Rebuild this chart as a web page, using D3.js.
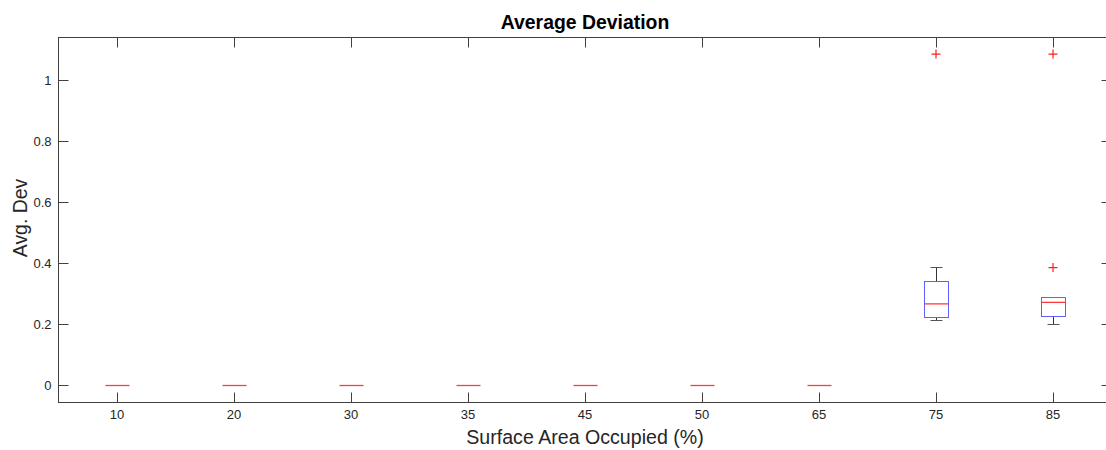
<!DOCTYPE html>
<html>
<head>
<meta charset="utf-8">
<script src="https://cdn.jsdelivr.net/npm/d3@7"></script>
<style>
  body { margin: 0; background: #fff; }
  text { font-family: "Liberation Sans", Arial, Helvetica, sans-serif; fill: #262626; }
</style>
</head>
<body>
<svg id="chart" width="1106" height="450"></svg>
<script>
// box plot summary per category
var categories = ['10', '20', '30', '35', '45', '50', '65', '75', '85'];
var lowerWhisker = [0, 0, 0, 0, 0, 0, 0, 0.213, 0.201];
var q1Values     = [0, 0, 0, 0, 0, 0, 0, 0.223, 0.228];
var medians      = [0, 0, 0, 0, 0, 0, 0, 0.268, 0.273];
var q3Values     = [0, 0, 0, 0, 0, 0, 0, 0.342, 0.288];
var upperWhisker = [0, 0, 0, 0, 0, 0, 0, 0.387, 0.288];
var outliers     = [[], [], [], [], [], [], [], [1.088], [0.387, 1.088]];
var yTicks = [0, 0.2, 0.4, 0.6, 0.8, 1];

var svg = d3.select('#chart');
var axLeft = 58.5, axRight = 1111.5, axTop = 37.5, axBottom = 402.5;
var axisColour = '#404040';

var x = d3.scalePoint()
    .domain(categories)
    .range([axLeft, axRight])
    .padding(0.5);

var y = d3.scaleLinear()
    .domain([-0.0558, 1.1425])
    .range([axBottom, axTop]);

// snap to pixel centres so 1px lines stay sharp
function px(v) { return Math.floor(v) + 0.5; }
function sx(c) { return px(x(c)); }
function sy(v) { return px(y(v)); }

var data = categories.map(function(c, i) {
    return {cat: c, lo: lowerWhisker[i], q1: q1Values[i], med: medians[i],
            q3: q3Values[i], hi: upperWhisker[i], out: outliers[i]};
});

var boxW = 24, capW = 12;
var g = svg.append('g');

// whiskers
g.selectAll('.whisk').data(data.filter(function(d) { return d.hi > d.lo; })).enter().append('path')
    .attr('d', function(d) {
        return 'M' + sx(d.cat) + ',' + sy(d.q3) + 'V' + sy(d.hi) +
               'M' + sx(d.cat) + ',' + sy(d.q1) + 'V' + sy(d.lo);
    })
    .style('stroke', '#333').style('stroke-width', 1).style('fill', 'none');

// caps
['hi', 'lo'].forEach(function(k) {
    g.selectAll('.cap' + k).data(data.filter(function(d) { return d.hi > d.lo; })).enter().append('line')
        .attr('x1', function(d) { return sx(d.cat) - capW / 2; })
        .attr('x2', function(d) { return sx(d.cat) + capW / 2; })
        .attr('y1', function(d) { return sy(d[k]); })
        .attr('y2', function(d) { return sy(d[k]); })
        .style('stroke', '#555').style('stroke-width', 1);
});

// boxes
g.selectAll('.box').data(data.filter(function(d) { return d.q3 > d.q1; })).enter().append('rect')
    .attr('x', function(d) { return sx(d.cat) - boxW / 2; })
    .attr('y', function(d) { return sy(d.q3); })
    .attr('width', boxW)
    .attr('height', function(d) { return sy(d.q1) - sy(d.q3); })
    .style('fill', 'none')
    .style('stroke', '#6060ff')
    .style('stroke-width', 1);

// medians
g.selectAll('.median').data(data).enter().append('line')
    .attr('x1', function(d) { return sx(d.cat) - boxW / 2; })
    .attr('x2', function(d) { return sx(d.cat) + boxW / 2; })
    .attr('y1', function(d) { return y(d.med); })
    .attr('y2', function(d) { return y(d.med); })
    .style('stroke', '#ff3a3a')
    .style('stroke-width', 1.3);

// outliers as red plus signs
var outPts = [];
data.forEach(function(d) {
    d.out.forEach(function(v) { outPts.push({cat: d.cat, v: v}); });
});
g.selectAll('.outlier').data(outPts).enter().append('path')
    .attr('d', function(d) {
        var cx = x(d.cat), cy = y(d.v), r = 4.5;
        return 'M' + (cx - r) + ',' + cy + 'H' + (cx + r) + 'M' + cx + ',' + (cy - r) + 'V' + (cy + r);
    })
    .style('stroke', '#ff2020')
    .style('stroke-width', 1.2)
    .style('fill', 'none');

// axes frame
var axes = svg.append('g');
axes.append('rect')
    .attr('x', axLeft).attr('y', axTop)
    .attr('width', axRight - axLeft).attr('height', axBottom - axTop)
    .style('fill', 'none').style('stroke', axisColour).style('stroke-width', 1);

var tickLen = 10;
// x ticks, bottom and top, pointing inward
axes.selectAll('.xtickB').data(categories).enter().append('line')
    .attr('x1', function(d) { return sx(d); }).attr('x2', function(d) { return sx(d); })
    .attr('y1', axBottom).attr('y2', axBottom - tickLen)
    .style('stroke', axisColour);
axes.selectAll('.xtickT').data(categories).enter().append('line')
    .attr('x1', function(d) { return sx(d); }).attr('x2', function(d) { return sx(d); })
    .attr('y1', axTop).attr('y2', axTop + tickLen)
    .style('stroke', axisColour);
axes.selectAll('.xlabel').data(categories).enter().append('text')
    .attr('x', function(d) { return x(d); })
    .attr('y', 419)
    .style('text-anchor', 'middle')
    .style('font-size', '13px')
    .text(function(d) { return d; });

// y ticks, left and right
axes.selectAll('.ytickL').data(yTicks).enter().append('line')
    .attr('x1', axLeft).attr('x2', axLeft + tickLen)
    .attr('y1', function(d) { return sy(d); }).attr('y2', function(d) { return sy(d); })
    .style('stroke', axisColour);
axes.selectAll('.ytickR').data(yTicks).enter().append('line')
    .attr('x1', axRight).attr('x2', axRight - tickLen)
    .attr('y1', function(d) { return sy(d); }).attr('y2', function(d) { return sy(d); })
    .style('stroke', axisColour);
axes.selectAll('.ylabel').data(yTicks).enter().append('text')
    .attr('x', axLeft - 7)
    .attr('y', function(d) { return y(d) + 4.5; })
    .style('text-anchor', 'end')
    .style('font-size', '13px')
    .text(function(d) { return d3.format('~g')(d); });

// titles
svg.append('text')
    .attr('x', 585).attr('y', 29)
    .style('text-anchor', 'middle')
    .style('font-size', '19.4px')
    .style('font-weight', 'bold')
    .style('fill', '#000')
    .text('Average Deviation');
svg.append('text')
    .attr('x', 585).attr('y', 444)
    .style('text-anchor', 'middle')
    .style('font-size', '19.6px')
    .text('Surface Area Occupied (%)');
svg.append('text')
    .attr('transform', 'translate(27,218) rotate(-90)')
    .style('text-anchor', 'middle')
    .style('font-size', '19.4px')
    .text('Avg. Dev');
</script>
</body>
</html>
